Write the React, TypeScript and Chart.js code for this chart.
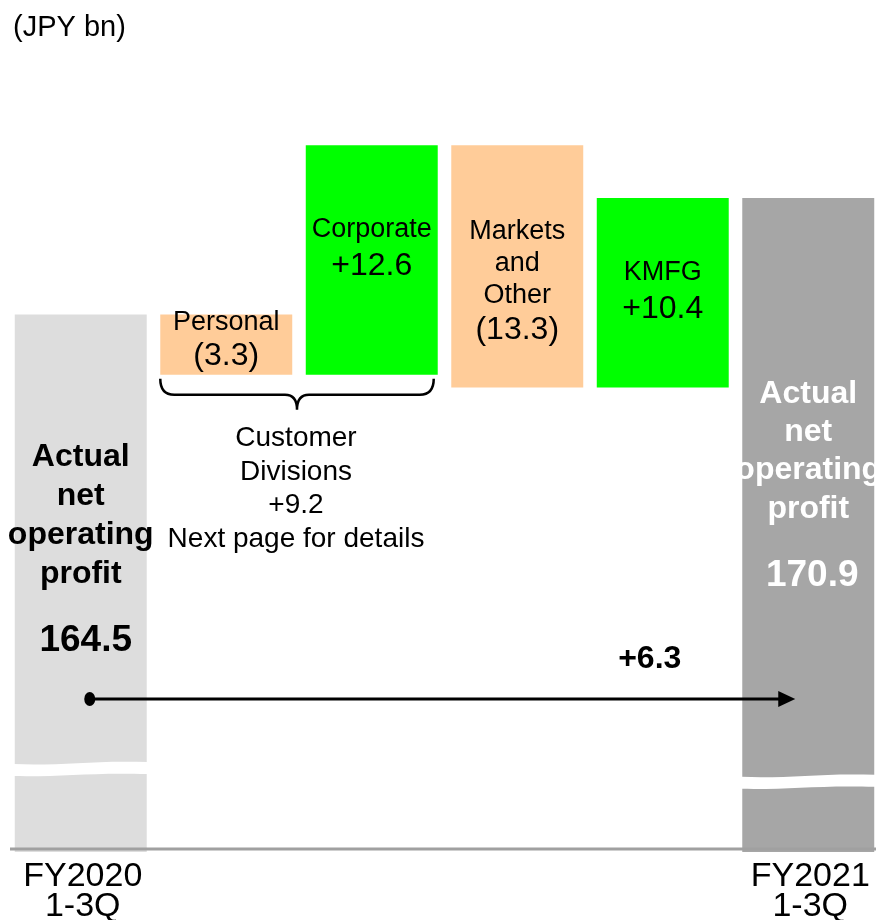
import React, { useEffect, useRef } from "react";
import { Chart, registerables } from "chart.js";

Chart.register(...registerables);

// ---------- data ----------
const categories = ["FY2020 1-3Q", "Personal", "Corporate", "Markets and Other", "KMFG", "FY2021 1-3Q"];
const startValue = 164.5;
const deltas = [-3.3, 12.6, -13.3, 10.4];
const endValue = 170.9;
const customerDivisionsChange = 9.2;
const totalChange = 6.3;
const axisBase = 135; // value where the (broken) axis sits
const axisTop = 181;
const breakLevels = [139.55, 138.85]; // axis break marks on first / last bar
const arrowLevel = 143.4;
const barColors = ["#dddddd", "#ffcc99", "#00ff00", "#ffcc99", "#00ff00", "#a6a6a6"];
const categoryTickLabels = [["FY2020", "1-3Q"], [], [], [], [], ["FY2021", "1-3Q"]];
const deltaNames = [["Personal"], ["Corporate"], ["Markets", "and", "Other"], ["KMFG"]];
const totalTitle = ["Actual", "net", "operating", "profit"];
const unitLabel = "(JPY bn)";

const FONT = '"Liberation Sans", Arial, Helvetica, sans-serif';

function fmtDelta(v: number): string {
  return v < 0 ? `(${Math.abs(v).toFixed(1)})` : `+${v.toFixed(1)}`;
}

// floating bars built from the named arrays
function buildBars(): [number, number][] {
  const bars: [number, number][] = [[axisBase, startValue]];
  let running = startValue;
  for (const d of deltas) {
    const next = Math.round((running + d) * 10) / 10;
    bars.push([Math.min(running, next), Math.max(running, next)]);
    running = next;
  }
  bars.push([axisBase, endValue]);
  return bars;
}

function text(ctx: CanvasRenderingContext2D, s: string, x: number, y: number, font: string, color: string, align: CanvasTextAlign = "center") {
  ctx.font = font;
  ctx.fillStyle = color;
  ctx.textAlign = align;
  ctx.textBaseline = "middle";
  ctx.fillText(s, x, y);
}

const decorPlugin = {
  id: "decor",
  afterDatasetsDraw(chart: any) {
    const ctx: CanvasRenderingContext2D = chart.ctx;
    const meta = chart.getDatasetMeta(0);
    const els = meta.data;
    const yS = chart.scales.y;
    const area = chart.chartArea;
    ctx.save();

    // axis breaks (white wavy bands)
    [0, els.length - 1].forEach((idx, k) => {
      const el = els[idx];
      const w = el.width;
      const left = el.x - w / 2 - 1;
      const right = el.x + w / 2 + 1;
      const yc = yS.getPixelForValue(breakLevels[k]);
      ctx.beginPath();
      ctx.moveTo(left, yc - 5);
      ctx.bezierCurveTo(left + 0.35 * w, yc - 3, left + 0.6 * w, yc - 9, right, yc - 7);
      ctx.lineTo(right, yc + 5);
      ctx.bezierCurveTo(left + 0.6 * w, yc + 3, left + 0.35 * w, yc + 8, left, yc + 7);
      ctx.closePath();
      ctx.fillStyle = "#ffffff";
      ctx.fill();
    });

    // axis line
    ctx.beginPath();
    ctx.strokeStyle = "#a0a0a0";
    ctx.lineWidth = 3;
    ctx.moveTo(10, area.bottom - 3);
    ctx.lineTo(876, area.bottom - 3);
    ctx.stroke();

    // category labels
    categoryTickLabels.forEach((lines, i) => {
      lines.forEach((ln, j) => {
        text(ctx, ln, els[i].x + 2, area.bottom + 25 + j * 30, `34px ${FONT}`, "#000");
      });
    });

    // total bars' labels
    const firstTop = els[0].y;
    const lastTop = els[els.length - 1].y;
    totalTitle.forEach((ln, j) => {
      text(ctx, ln, els[0].x, firstTop + 143 + j * 38.7, `bold 32px ${FONT}`, "#000");
      text(ctx, ln, els[5].x, lastTop + 196 + j * 38.3, `bold 32px ${FONT}`, "#ffffff");
    });
    text(ctx, startValue.toFixed(1), els[0].x + 5, firstTop + 326, `bold 37px ${FONT}`, "#000");
    text(ctx, endValue.toFixed(1), els[5].x + 4, lastTop + 378, `bold 37px ${FONT}`, "#ffffff");

    // delta bars' labels
    const nameOffsets = [[8], [84], [86, 118, 150], [75]];
    const valueOffsets = [42, 121, 185, 111];
    deltas.forEach((d, k) => {
      const el = els[k + 1];
      const top = Math.min(el.y, el.base);
      deltaNames[k].forEach((ln, j) => {
        text(ctx, ln, el.x, top + nameOffsets[k][j], `27px ${FONT}`, "#000");
      });
      text(ctx, fmtDelta(d), el.x, top + valueOffsets[k], `32px ${FONT}`, "#000");
    });

    // brace under Personal + Corporate
    const b1 = els[1];
    const b2 = els[2];
    const x0 = b1.x - b1.width / 2;
    const x1 = b2.x + b2.width / 2 - 4;
    const yTop = Math.max(b1.base, b1.y) + 4;
    const yMid = yTop + 16;
    const yTip = yTop + 31;
    const xm = (x0 + x1) / 2;
    ctx.beginPath();
    ctx.strokeStyle = "#000";
    ctx.lineWidth = 2.5;
    ctx.moveTo(x0, yTop);
    ctx.quadraticCurveTo(x0, yMid, x0 + 14, yMid);
    ctx.lineTo(xm - 12, yMid);
    ctx.quadraticCurveTo(xm, yMid, xm, yTip);
    ctx.quadraticCurveTo(xm, yMid, xm + 12, yMid);
    ctx.lineTo(x1 - 14, yMid);
    ctx.quadraticCurveTo(x1, yMid, x1, yTop);
    ctx.stroke();

    const cdLines = ["Customer", "Divisions", fmtDelta(customerDivisionsChange), "Next page for details"];
    cdLines.forEach((ln, j) => {
      text(ctx, ln, xm - 1, yTip + 29 + j * 33.5, `28px ${FONT}`, "#000");
    });

    // arrow from first total to last total
    const ay = yS.getPixelForValue(arrowLevel);
    const xs = els[0].x + 9;
    const xe = els[5].x - 13;
    ctx.beginPath();
    ctx.lineWidth = 3;
    ctx.moveTo(xs, ay);
    ctx.lineTo(xe - 14, ay);
    ctx.stroke();
    ctx.beginPath();
    ctx.fillStyle = "#000";
    ctx.ellipse(xs, ay, 5.5, 7, 0, 0, Math.PI * 2);
    ctx.fill();
    ctx.beginPath();
    ctx.moveTo(xe, ay);
    ctx.lineTo(xe - 17, ay - 8);
    ctx.lineTo(xe - 17, ay + 8);
    ctx.closePath();
    ctx.fill();
    text(ctx, fmtDelta(totalChange), els[4].x - 13, ay - 40, `bold 32px ${FONT}`, "#000");

    // unit label
    text(ctx, unitLabel, 13, 28, `29px ${FONT}`, "#000", "left");

    ctx.restore();
  },
};

export default function App() {
  const ref = useRef<HTMLCanvasElement | null>(null);

  useEffect(() => {
    const canvas = ref.current;
    if (!canvas) return;
    const chart = new Chart(canvas, {
      type: "bar",
      data: {
        labels: categories,
        datasets: [
          {
            data: buildBars() as any,
            backgroundColor: barColors,
            borderWidth: 0,
            barPercentage: 0.907,
            categoryPercentage: 1,
          },
        ],
      },
      options: {
        responsive: false,
        animation: false,
        devicePixelRatio: 1,
        layout: { padding: { left: 8, right: 0, top: 14, bottom: 68 } },
        plugins: { legend: { display: false }, tooltip: { enabled: false }, title: { display: false } },
        scales: {
          x: { display: false },
          y: { display: false, min: axisBase, max: axisTop },
        },
      },
      plugins: [decorPlugin],
    });
    return () => chart.destroy();
  }, []);

  return (
    <div style={{ position: "fixed", left: 0, top: 0, width: 876, height: 920, overflow: "hidden", background: "#fff" }}>
      <canvas ref={ref} width={881} height={920} style={{ display: "block", width: 881, height: 920 }} />
    </div>
  );
}
